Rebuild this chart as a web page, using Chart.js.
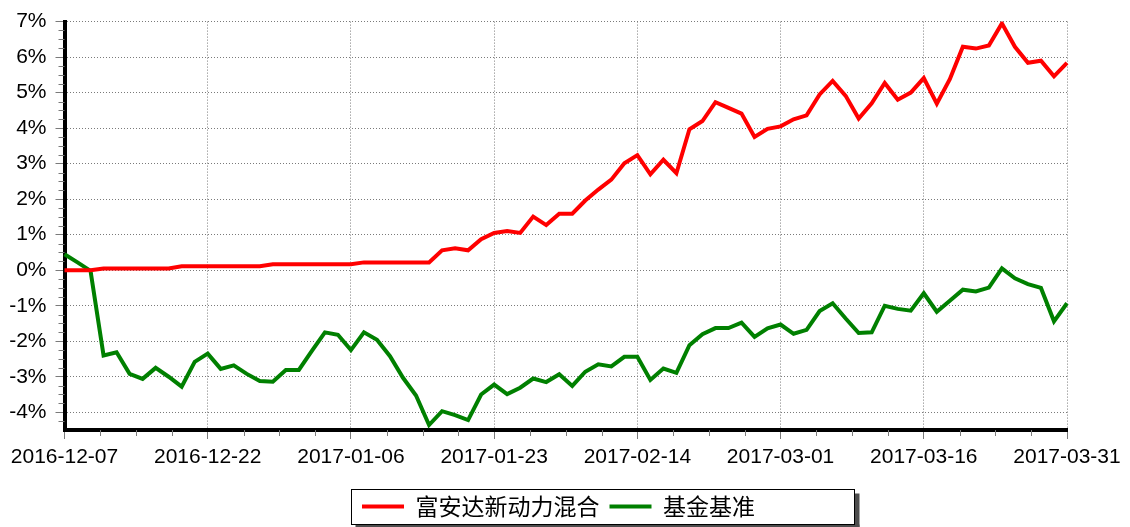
<!DOCTYPE html>
<html>
<head>
<meta charset="utf-8">
<title>富安达新动力混合</title>
<script src="https://cdn.jsdelivr.net/npm/chart.js@4.4.0/dist/chart.umd.min.js"></script>
<style>
  body { margin: 0; background: #fff; }
  canvas { display: block; }
</style>
</head>
<body>
<canvas id="myChart" width="1130" height="527"></canvas>
<script>
// 日期（交易日）
var dates = [
    '2016-12-07','2016-12-08','2016-12-09','2016-12-12','2016-12-13','2016-12-14','2016-12-15','2016-12-16',
    '2016-12-19','2016-12-20','2016-12-21','2016-12-22','2016-12-23','2016-12-26','2016-12-27','2016-12-28',
    '2016-12-29','2016-12-30','2016-12-31',
    '2017-01-03','2017-01-04','2017-01-05','2017-01-06','2017-01-09','2017-01-10','2017-01-11','2017-01-12',
    '2017-01-13','2017-01-16','2017-01-17','2017-01-18','2017-01-19','2017-01-20','2017-01-23','2017-01-24',
    '2017-01-25','2017-01-26',
    '2017-02-03','2017-02-06','2017-02-07','2017-02-08','2017-02-09','2017-02-10','2017-02-13','2017-02-14',
    '2017-02-15','2017-02-16','2017-02-17','2017-02-20','2017-02-21','2017-02-22','2017-02-23','2017-02-24',
    '2017-02-27','2017-02-28',
    '2017-03-01','2017-03-02','2017-03-03','2017-03-06','2017-03-07','2017-03-08','2017-03-09','2017-03-10',
    '2017-03-13','2017-03-14','2017-03-15','2017-03-16','2017-03-17','2017-03-20','2017-03-21','2017-03-22',
    '2017-03-23','2017-03-24','2017-03-27','2017-03-28','2017-03-29','2017-03-30','2017-03-31'
];

var fundName = '富安达新动力混合';
var benchName = '基金基准';

// 累计收益率 (%)
var fundValues = [
    0, 0, 0, 0.05, 0.05, 0.05, 0.05, 0.05, 0.05, 0.11,
    0.11, 0.11, 0.11, 0.11, 0.11, 0.11, 0.17, 0.17, 0.17, 0.17,
    0.17, 0.17, 0.17, 0.22, 0.22, 0.22, 0.22, 0.22, 0.22, 0.56,
    0.62, 0.56, 0.87, 1.05, 1.10, 1.05, 1.51, 1.27, 1.59, 1.59,
    1.96, 2.27, 2.55, 3.01, 3.24, 2.70, 3.11, 2.73, 3.97, 4.20,
    4.73, 4.57, 4.41, 3.75, 3.98, 4.05, 4.25, 4.36, 4.95, 5.33,
    4.91, 4.27, 4.70, 5.27, 4.80, 5.00, 5.41, 4.69, 5.38, 6.29,
    6.24, 6.33, 6.95, 6.29, 5.84, 5.90, 5.46, 5.84
];
var benchValues = [
    0.45, 0.22, -0.02, -2.40, -2.31, -2.92, -3.06, -2.75, -3.00, -3.28,
    -2.58, -2.35, -2.78, -2.68, -2.92, -3.12, -3.14, -2.81, -2.81, -2.27,
    -1.75, -1.82, -2.25, -1.75, -1.96, -2.42, -3.03, -3.53, -4.36, -3.97,
    -4.08, -4.22, -3.50, -3.22, -3.49, -3.31, -3.05, -3.15, -2.93, -3.26,
    -2.86, -2.65, -2.71, -2.44, -2.44, -3.09, -2.77, -2.89, -2.11, -1.80,
    -1.63, -1.63, -1.48, -1.88, -1.64, -1.53, -1.79, -1.68, -1.15, -0.93,
    -1.36, -1.77, -1.75, -1.00, -1.09, -1.14, -0.65, -1.17, -0.86, -0.55,
    -0.60, -0.49, 0.05, -0.23, -0.39, -0.50, -1.44, -0.93
];

// y轴刻度 (%)
var yTicks = [-4, -3, -2, -1, 0, 1, 2, 3, 4, 5, 6, 7];
var Y_MIN = -4.5;
var Y_MAX = 7;
var LABEL_STEP = 11;   // 每11个点一个日期标签

var GRID_COLOR = '#7a7a7a';
var TICK_FONT = { family: '"Liberation Sans", Arial, sans-serif', size: 21 };

// 次刻度线 + 图例外框
var extras = {
    id: 'extras',
    afterDraw: function(chart) {
        var ctx = chart.ctx;
        var area = chart.chartArea;
        var x = chart.scales.x;
        var y = chart.scales.y;

        ctx.save();
        ctx.strokeStyle = GRID_COLOR;
        ctx.lineWidth = 1;
        ctx.beginPath();
        for (var v = Y_MIN + 0.25; v < Y_MAX; v += 0.25) {
            if (Math.abs(v - Math.round(v)) < 0.01) continue;
            var py = Math.round(y.getPixelForValue(v)) + 0.5;
            ctx.moveTo(area.left - 6, py);
            ctx.lineTo(area.left, py);
        }
        var last = dates.length - 1;
        for (var k = 1; k < last / (LABEL_STEP / 4); k++) {
            if (k % 4 == 0) continue;
            var px = Math.round(x.getPixelForValue(k * LABEL_STEP / 4)) + 0.5;
            ctx.moveTo(px, area.bottom);
            ctx.lineTo(px, area.bottom + 6);
        }
        ctx.stroke();

        // 图例外框
        var hb = chart.legend.legendHitBoxes;
        if (hb && hb.length) {
            var bx = Math.round(hb[0].left) - 10.5;
            var cy = hb[0].top + hb[0].height / 2;
            var by = Math.round(cy - 18) + 0.5;
            var bw = 503, bh = 35;
            ctx.fillStyle = '#4d4d4d';
            ctx.fillRect(bx + bw, by + 4, 5, bh);
            ctx.fillRect(bx + 4, by + bh, bw + 1, 4);
            ctx.strokeStyle = '#000';
            ctx.lineWidth = 1;
            ctx.strokeRect(bx, by, bw, bh);
        }
        ctx.restore();
    }
};

var ctx = document.getElementById('myChart').getContext('2d');
var myChart = new Chart(ctx, {
    type: 'line',
    data: {
        labels: dates,
        datasets: [
            {
                label: fundName,
                data: fundValues,
                borderColor: '#ff0000',
                backgroundColor: '#ff0000',
                borderWidth: 4,
                pointRadius: 0,
                tension: 0,
                fill: false
            },
            {
                label: benchName,
                data: benchValues,
                borderColor: '#008000',
                backgroundColor: '#008000',
                borderWidth: 4,
                pointRadius: 0,
                tension: 0,
                fill: false
            }
        ]
    },
    options: {
        responsive: false,
        animation: false,
        layout: { padding: { left: 0, right: 13, top: 18, bottom: -1 } },
        plugins: {
            tooltip: { enabled: false },
            legend: {
                position: 'bottom',
                labels: {
                    usePointStyle: true,
                    pointStyle: 'line',
                    pointStyleWidth: 42,
                    boxWidth: 42,
                    padding: 10,
                    color: '#000',
                    font: { family: '"Noto Sans CJK SC", sans-serif', size: 23 }
                }
            }
        },
        scales: {
            x: {
                type: 'category',
                afterFit: function(scale) { scale.height = 55; },
                grid: {
                    color: GRID_COLOR,
                    tickColor: GRID_COLOR,
                    tickLength: 9,
                    tickBorderDash: []
                },
                border: { display: true, color: '#000', width: 4, dash: [1, 2] },
                ticks: {
                    autoSkip: false,
                    maxRotation: 0,
                    padding: 6,
                    color: '#000',
                    font: TICK_FONT,
                    callback: function(val, index) {
                        return index % LABEL_STEP == 0 ? this.getLabelForValue(val) : null;
                    }
                }
            },
            y: {
                min: Y_MIN,
                max: Y_MAX,
                afterFit: function(scale) { scale.width = 64.5; },
                afterBuildTicks: function(scale) {
                    scale.ticks = yTicks.map(function(v) { return { value: v }; });
                },
                grid: {
                    color: GRID_COLOR,
                    tickColor: GRID_COLOR,
                    tickLength: 9,
                    tickBorderDash: []
                },
                border: { display: true, color: '#000', width: 4, dash: [1, 2] },
                ticks: {
                    padding: 9,
                    color: '#000',
                    font: TICK_FONT,
                    callback: function(value) { return value + '%'; }
                }
            },
            // 右侧留白
            yRight: {
                position: 'right',
                afterFit: function(scale) { scale.width = 50; },
                grid: { display: false },
                border: { display: false },
                ticks: { display: false }
            }
        }
    },
    plugins: [extras]
});
</script>
</body>
</html>
